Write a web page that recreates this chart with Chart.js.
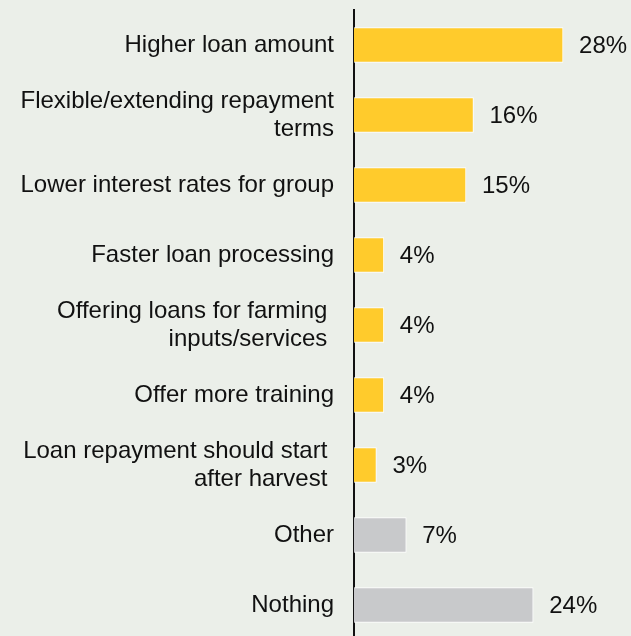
<!DOCTYPE html>
<html>
<head>
<meta charset="utf-8">
<script src="https://cdn.jsdelivr.net/npm/chart.js@4"></script>
<style>
  html, body { margin: 0; padding: 0; background: #ebefe9; overflow: hidden; }
  #wrap { width: 631px; height: 640px; position: relative; }
</style>
</head>
<body>
<div id="wrap"><canvas id="chart"></canvas></div>
<script>
(function() {
    // categories (multi-line ones are arrays of lines)
    const categories = [
        'Higher loan amount',
        ['Flexible/extending repayment', 'terms'],
        'Lower interest rates for group',
        'Faster loan processing',
        ['Offering loans for farming ', 'inputs/services '],
        'Offer more training',
        ['Loan repayment should start ', 'after harvest '],
        'Other',
        'Nothing'
    ];
    const shares = [28, 16, 15, 4, 4, 4, 3, 7, 24];
    const barColors = ['#ffcb2c', '#ffcb2c', '#ffcb2c', '#ffcb2c', '#ffcb2c', '#ffcb2c', '#ffcb2c', '#c8c9cb', '#c8c9cb'];

    const FONT = '"Liberation Sans", Arial, Helvetica, sans-serif';

    // percent labels to the right of each bar
    const valueLabels = {
        id: 'valueLabels',
        afterDatasetsDraw(chart) {
            const ctx = chart.ctx;
            const meta = chart.getDatasetMeta(0);
            ctx.save();
            ctx.font = '24px ' + FONT;
            ctx.fillStyle = '#111';
            ctx.textAlign = 'left';
            ctx.textBaseline = 'middle';
            meta.data.forEach((bar, i) => {
                ctx.fillText(shares[i] + '%', bar.x + 16, bar.y + 1);
            });
            ctx.restore();
        }
    };

    new Chart(document.getElementById('chart'), {
        type: 'bar',
        data: {
            labels: categories,
            datasets: [{
                data: shares,
                backgroundColor: barColors,
                borderColor: '#ffffff',
                borderWidth: 1,
                barThickness: 35
            }]
        },
        options: {
            indexAxis: 'y',
            responsive: true,
            maintainAspectRatio: false,
            animation: false,
            layout: { padding: { top: 10, bottom: 0, right: 0 } },
            scales: {
                x: {
                    display: false,
                    min: 0,
                    max: 37.1
                },
                y: {
                    afterFit(scale) {
                        scale.width = 354;
                        // no extra room above/below for the tick labels
                        scale.paddingTop = 0;
                        scale.paddingBottom = 0;
                    },
                    grid: { display: false, drawTicks: false },
                    border: { display: true, color: '#111', width: 2 },
                    ticks: {
                        color: '#111',
                        padding: 20,
                        font: { family: FONT, size: 24, lineHeight: 1.17 }
                    }
                }
            },
            plugins: {
                legend: { display: false },
                tooltip: { enabled: false }
            }
        },
        plugins: [valueLabels]
    });
})();
</script>
</body>
</html>
